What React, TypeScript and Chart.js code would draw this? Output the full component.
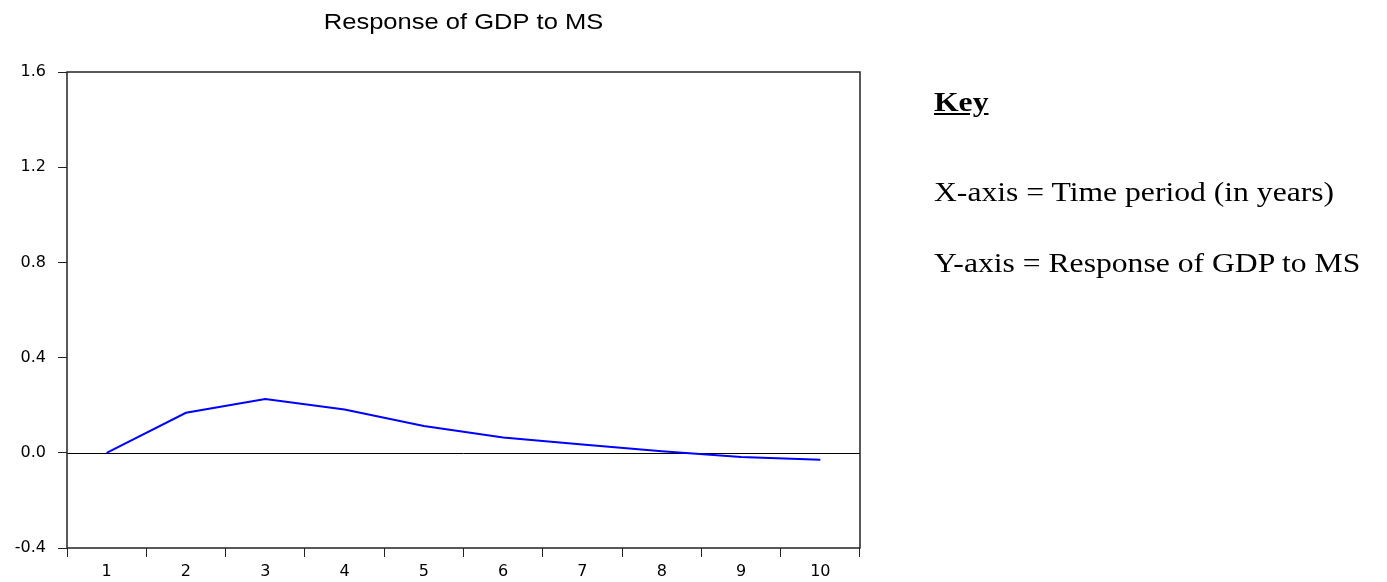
import React, { useEffect, useRef } from "react";
import { Chart, registerables } from "chart.js";

Chart.register(...registerables);

const periods = ["1", "2", "3", "4", "5", "6", "7", "8", "9", "10"];
const responseValues = [0, 0.168, 0.226, 0.182, 0.113, 0.064, 0.035, 0.007, -0.018, -0.029];
const yMin = -0.4;
const yMax = 1.6;
const yStep = 0.4;
const chartTitle = "Response of GDP to MS";
const keyHeading = "Key";
const keyLines = ["X-axis = Time period (in years)", "Y-axis = Response of GDP to MS"];

const W = 1387;
const H = 582;

const decorPlugin = {
  id: "decor",
  beforeDatasetsDraw(chart: any) {
    const { ctx, chartArea, scales } = chart;
    const y0 = Math.round(scales.y.getPixelForValue(0)) + 0.5;
    ctx.save();
    ctx.strokeStyle = "#000";
    ctx.lineWidth = 1;
    ctx.beginPath();
    ctx.moveTo(chartArea.left, y0);
    ctx.lineTo(chartArea.right, y0);
    ctx.stroke();
    ctx.restore();
  },
  afterDraw(chart: any) {
    const { ctx, chartArea } = chart;
    ctx.save();
    ctx.strokeStyle = "#222";
    ctx.lineWidth = 1.5;
    ctx.strokeRect(chartArea.left, chartArea.top, chartArea.right - chartArea.left, chartArea.bottom - chartArea.top);
    const cx = (chartArea.left + chartArea.right) / 2;
    ctx.fillStyle = "#000";
    ctx.font = '22px "Liberation Sans", Arial, sans-serif';
    ctx.textAlign = "center";
    ctx.textBaseline = "alphabetic";
    ctx.translate(cx, 29);
    ctx.scale(1.16, 1);
    ctx.fillText(chartTitle, 0, 0);
    ctx.restore();
  },
};

export default function App() {
  const canvasRef = useRef<HTMLCanvasElement | null>(null);

  useEffect(() => {
    if (!canvasRef.current) return;
    const chart = new Chart(canvasRef.current, {
      type: "line",
      data: {
        labels: periods,
        datasets: [
          {
            data: responseValues,
            borderColor: "#0000FF",
            borderWidth: 2,
            pointRadius: 0,
            tension: 0,
            fill: false,
          },
        ],
      },
      options: {
        animation: false,
        responsive: true,
        maintainAspectRatio: false,
        layout: { padding: { top: 72, right: W - 860, left: 0, bottom: 0 } },
        plugins: {
          legend: { display: false },
          title: { display: false },
          tooltip: { enabled: false },
        },
        scales: {
          x: {
            type: "category",
            offset: true,
            grid: {
              display: true,
              offset: true,
              drawOnChartArea: false,
              drawTicks: true,
              tickLength: 9,
              color: "#222",
            },
            border: { display: false },
            ticks: {
              color: "#000",
              padding: 5,
              maxRotation: 0,
              autoSkip: false,
              font: { family: '"DejaVu Sans", sans-serif', size: 16 },
            },
            afterFit: (s: any) => {
              s.height = H - 548;
            },
          },
          y: {
            type: "linear",
            min: yMin,
            max: yMax,
            grid: {
              display: true,
              drawOnChartArea: false,
              drawTicks: true,
              tickLength: 9,
              color: "#222",
            },
            border: { display: false },
            ticks: {
              stepSize: yStep,
              color: "#000",
              padding: 12,
              font: { family: '"DejaVu Sans", sans-serif', size: 16 },
              callback: (v: any) => Number(v).toFixed(1),
            },
            afterFit: (s: any) => {
              s.width = 67;
            },
          },
        },
      },
      plugins: [decorPlugin],
    });
    return () => chart.destroy();
  }, []);

  const keyStyle: React.CSSProperties = {
    position: "absolute",
    left: 934,
    fontFamily: '"Liberation Serif", "Times New Roman", serif',
    fontSize: 28,
    lineHeight: "28px",
    whiteSpace: "nowrap",
    transform: "scaleX(1.13)",
    transformOrigin: "left top",
    color: "#000",
  };

  return (
    <div style={{ position: "fixed", left: 0, top: 0, width: W, height: H, background: "#fff" }}>
      <div style={{ position: "absolute", left: 0, top: 0, width: W, height: H }}>
        <canvas ref={canvasRef} />
      </div>
      <div style={{ ...keyStyle, top: 88, fontWeight: "bold", textDecoration: "underline" }}>{keyHeading}</div>
      <div style={{ ...keyStyle, top: 178 }}>{keyLines[0]}</div>
      <div style={{ ...keyStyle, top: 249 }}>{keyLines[1]}</div>
    </div>
  );
}
